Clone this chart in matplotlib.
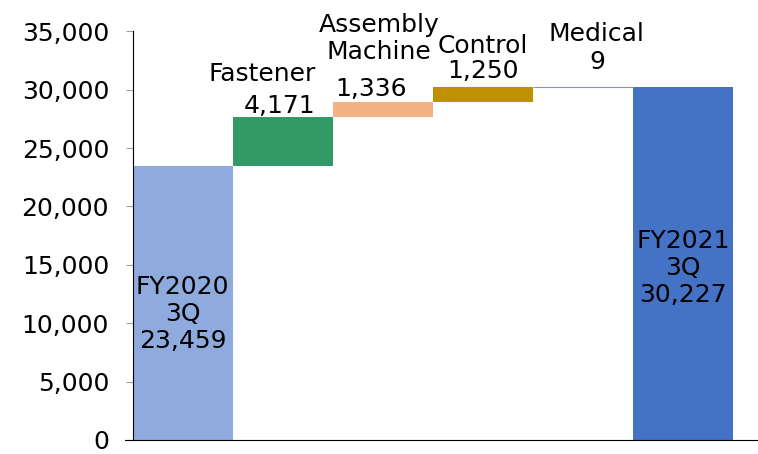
import matplotlib.pyplot as plt
import numpy as np

plt.rcParams['font.family'] = ['DejaVu Sans']

# data
names = ["FY2020\n3Q", "Fastener", "Assembly\nMachine", "Control", "Medical", "FY2021\n3Q"]
values = [23459, 4171, 1336, 1250, 9, 30227]
is_total = [True, False, False, False, False, True]
colors = ["#8faadc", "#339966", "#f4b183", "#bf9000", "#8497b0", "#4472c4"]
yticks = [0, 5000, 10000, 15000, 20000, 25000, 30000, 35000]

# bottoms for the floating bars
bottoms = []
running = 0
for v, tot in zip(values, is_total):
    if tot:
        bottoms.append(0)
        running = v
    else:
        bottoms.append(running)
        running += v
tops = [b + v for b, v in zip(bottoms, values)]

fig = plt.figure(figsize=(7.58, 4.54), dpi=100)
ax = fig.add_axes([0.175, 0.031, 0.825, 0.9])

x = np.arange(len(values))
ax.bar(x, values, bottom=bottoms, width=1.0, color=colors, linewidth=0)
# the tiny Medical step, drawn as a visible line
ax.bar(x[4], values[4], bottom=bottoms[4], width=1.0, color=colors[4],
       edgecolor=colors[4], linewidth=0.8)

ax.set_xlim(-0.5, 5.75)
ax.set_ylim(0, 35000)
ax.set_yticks(yticks)
ax.set_yticklabels([f"{t:,}" for t in yticks])
ax.tick_params(axis='y', labelsize=18, length=5, color='#a0a0a0', pad=12)
ax.set_xticks([])
for s in ['top', 'right']:
    ax.spines[s].set_visible(False)
ax.spines['left'].set_color('black')
ax.spines['bottom'].set_color('black')
ax.spines['bottom'].set_bounds(-0.58, 5.75)

fs = 18
kw = dict(fontsize=fs, va='center', linespacing=1.16, clip_on=False)

# totals: text inside the bar
ax.text(x[0], values[0] * 0.46, f"{names[0]}\n{values[0]:,}", ha='center', **kw)
ax.text(x[5], values[5] * 0.487, f"{names[5]}\n{values[5]:,}", ha='center', **kw)

# steps: name and value above the bar
ax.text(x[1] + 0.33, tops[1] + 3730, names[1], ha='right', **kw)
ax.text(x[1] + 0.33, tops[1] + 990, f"{values[1]:,}", ha='right', **kw)

ax.text(x[2] - 0.04, tops[2] + 5390, names[2], ha='center', **kw)
ax.text(x[2] - 0.12, tops[2] + 1110, f"{values[2]:,}", ha='center', **kw)

ax.text(x[3], tops[3] + 3540, names[3], ha='center', **kw)
ax.text(x[3], tops[3] + 1400, f"{values[3]:,}", ha='center', **kw)

ax.text(x[4] + 0.14, tops[4] + 4565, names[4], ha='center', **kw)
ax.text(x[4] + 0.14, tops[4] + 2165, f"{values[4]:,}", ha='center', **kw)

fig.savefig("out.png", dpi=100)
